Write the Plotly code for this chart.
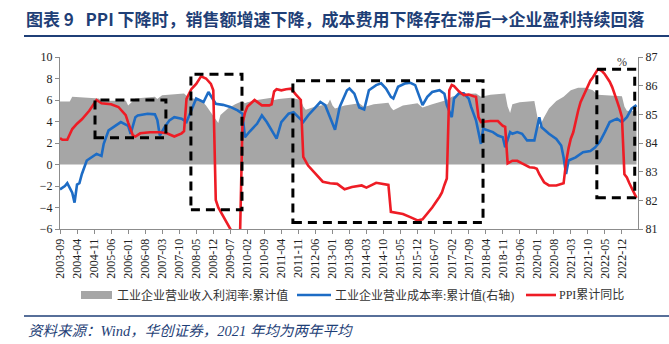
import plotly.graph_objects as go

# 工业企业营业收入利润率:累计值 (%, left axis)
margin_dates = [
    "2003-09", "2003-12", "2004-01", "2004-02", "2004-07", "2004-12", "2005-01", "2005-02",
    "2005-07", "2005-12", "2006-01", "2006-02", "2006-04", "2006-12", "2007-01", "2007-03",
    "2007-08", "2007-12", "2008-01", "2008-02", "2008-05", "2008-07", "2008-09", "2008-11",
    "2009-01", "2009-02", "2009-03", "2009-06", "2009-09", "2009-12", "2010-01", "2010-02",
    "2010-06", "2010-12", "2011-01", "2011-03", "2011-08", "2011-11", "2011-12", "2012-01",
    "2012-02", "2012-06", "2012-11", "2012-12", "2013-01", "2013-02", "2013-06", "2013-12",
    "2014-01", "2014-02", "2014-06", "2014-12", "2015-01", "2015-02", "2015-06", "2015-12",
    "2016-01", "2016-02", "2016-06", "2016-12", "2017-02", "2017-06", "2017-12", "2018-02",
    "2018-06", "2018-12", "2019-01", "2019-02", "2019-03", "2019-06", "2019-12", "2020-01",
    "2020-02", "2020-04", "2020-06", "2020-09", "2020-12", "2021-03", "2021-06", "2021-09",
    "2021-12", "2022-02", "2022-06", "2022-12", "2023-01", "2023-02", "2023-06",
]
margin_vals = [
    5.85, 5.9, 5.85, 6.3, 6.25, 6.2, 6.15, 5.9,
    5.9, 5.95, 5.5, 5.75, 6.15, 6.3, 6.1, 6.45,
    6.5, 6.6, 6.4, 6.2, 6.1, 6.0, 5.5, 4.8,
    4.1, 3.85, 4.6, 5.2, 5.6, 5.9, 5.7, 5.8,
    6.0, 6.2, 6.0, 6.1, 6.2, 6.1, 6.0, 5.4,
    5.1, 5.4, 5.6, 6.05, 5.5, 5.2, 5.5, 5.7,
    5.5, 5.35, 5.6, 5.75, 5.3, 5.05, 5.5, 5.7,
    5.5, 5.3, 5.6, 6.0, 6.3, 6.55, 6.6, 6.3,
    6.5, 6.6, 5.4, 4.8, 5.6, 5.8, 5.9, 4.6,
    3.5, 4.4, 5.2, 5.9, 6.3, 6.9, 7.15, 7.15,
    6.9, 6.5, 6.45, 6.35, 5.4, 5.0, 4.95,
]

# 工业企业营业成本率:累计值 (%, right axis)
cost_dates = [
    "2003-09", "2003-11", "2003-12", "2004-02", "2004-03", "2004-04", "2004-05", "2004-06",
    "2004-08", "2004-10", "2004-12", "2005-02", "2005-03", "2005-05", "2005-07", "2005-09",
    "2005-10", "2006-01", "2006-02", "2006-04", "2006-05", "2006-09", "2006-12", "2007-01",
    "2007-02", "2007-04", "2007-06", "2007-08", "2007-11", "2008-01", "2008-03", "2008-05",
    "2008-08", "2008-10", "2009-01", "2009-04", "2009-07", "2009-10", "2009-12", "2010-01",
    "2010-03", "2010-06", "2010-08", "2010-10", "2011-02", "2011-04", "2011-07", "2011-09",
    "2011-11", "2012-01", "2012-03", "2012-06", "2012-08", "2012-10", "2012-12", "2013-02",
    "2013-04", "2013-07", "2013-08", "2013-10", "2013-12", "2014-02", "2014-04", "2014-07",
    "2014-09", "2014-11", "2015-01", "2015-02", "2015-04", "2015-07", "2015-09", "2015-11",
    "2016-02", "2016-04", "2016-06", "2016-09", "2016-11", "2016-12", "2017-02", "2017-03",
    "2017-05", "2017-07", "2017-09", "2017-10", "2017-12", "2018-02", "2018-03", "2018-05",
    "2018-07", "2018-09", "2018-11", "2018-12", "2019-02", "2019-03", "2019-05", "2019-07",
    "2019-09", "2019-12", "2020-02", "2020-03", "2020-06", "2020-09", "2020-11", "2020-12",
    "2021-01", "2021-02", "2021-05", "2021-08", "2021-11", "2022-01", "2022-03", "2022-05",
    "2022-07", "2022-10", "2022-12", "2023-02", "2023-04", "2023-06",
]
cost_vals = [
    82.38, 82.5, 82.6, 82.27, 81.92, 82.55, 82.6, 82.92,
    83.39, 83.5, 83.62, 83.55, 83.97, 84.44, 84.55, 84.67,
    84.73, 84.6, 84.32, 84.9, 84.96, 85.02, 85.0, 84.8,
    84.26, 84.55, 84.79, 84.9, 84.85, 84.73, 85.14, 85.55,
    85.43, 85.78, 85.37, 85.33, 85.26, 85.14, 85.02, 84.2,
    84.4, 84.67, 84.96, 84.73, 84.15, 84.73, 85.02, 85.07,
    84.9, 84.73, 84.96, 85.26, 85.43, 85.32, 84.9, 84.46,
    85.26, 85.84, 85.9, 85.72, 85.24, 85.17, 85.84, 86.02,
    86.08, 85.9, 85.61, 85.55, 85.96, 86.08, 86.1, 86.02,
    85.32, 85.61, 85.78, 85.84, 85.72, 85.32, 84.9, 85.55,
    85.73, 85.73, 85.55, 85.26, 84.79, 83.97, 84.5, 84.44,
    84.38, 84.26, 84.2, 83.85, 84.38, 84.32, 84.38, 84.32,
    84.09, 84.09, 84.9, 84.55, 84.32, 84.14, 83.91, 83.5,
    82.92, 83.39, 83.5, 83.68, 83.72, 83.85, 84.05, 84.38,
    84.73, 84.85, 84.73, 84.9, 85.2, 85.32,
]

# PPI累计同比 (%, left axis)
ppi_dates = [
    "2003-09", "2003-10", "2003-12", "2004-02", "2004-04", "2004-06", "2004-09", "2004-12",
    "2005-02", "2005-06", "2005-09", "2005-11", "2005-12", "2006-01", "2006-02", "2006-03",
    "2006-04", "2006-06", "2006-10", "2007-02", "2007-05", "2007-08", "2007-11", "2007-12",
    "2008-01", "2008-03", "2008-05", "2008-07", "2008-09", "2008-11", "2008-12", "2009-01",
    "2009-02", "2009-05", "2009-07", "2009-08", "2009-09", "2009-10", "2009-11", "2009-12",
    "2010-01", "2010-02", "2010-04", "2010-05", "2010-08", "2010-11", "2010-12", "2011-01",
    "2011-02", "2011-04", "2011-06", "2011-08", "2011-10", "2011-11", "2011-12", "2012-01",
    "2012-03", "2012-06", "2012-09", "2012-12", "2013-03", "2013-06", "2013-09", "2014-01",
    "2014-03", "2014-07", "2014-10", "2014-12", "2015-01", "2015-06", "2015-09", "2015-12",
    "2016-02", "2016-06", "2016-09", "2016-10", "2016-11", "2016-12", "2017-01", "2017-02",
    "2017-03", "2017-05", "2017-07", "2017-09", "2017-11", "2017-12", "2018-01", "2018-02",
    "2018-04", "2018-06", "2018-09", "2018-11", "2018-12", "2019-01", "2019-03", "2019-05",
    "2019-07", "2019-10", "2019-12", "2020-01", "2020-02", "2020-04", "2020-06", "2020-09",
    "2020-12", "2021-01", "2021-02", "2021-03", "2021-04", "2021-05", "2021-06", "2021-07",
    "2021-08", "2021-09", "2021-10", "2021-11", "2021-12", "2022-01", "2022-02", "2022-03",
    "2022-04", "2022-05", "2022-06", "2022-07", "2022-08", "2022-09", "2022-10", "2022-11",
    "2022-12", "2023-01", "2023-02", "2023-03", "2023-04", "2023-05", "2023-06",
]
ppi_vals = [
    2.45, 2.3, 2.3, 3.3, 3.8, 4.2, 5.0, 6.0,
    5.7, 5.6, 5.35, 4.9, 4.6, 3.9, 3.2, 2.7,
    2.6, 2.9, 3.0, 3.0, 2.9, 2.6, 2.9, 3.1,
    6.1, 7.0, 7.5, 8.2, 8.0, 7.5, 6.9, -3.3,
    -4.0, -5.2, -5.9, -6.5, -6.8, -6.8, -6.4, 3.8,
    4.8, 5.4, 5.8, 6.0, 5.5, 5.5, 5.6, 6.8,
    7.0, 6.9, 7.0, 7.05, 6.5, 6.2, 6.0, 0.7,
    -0.1, -0.85, -1.6, -1.75, -1.8, -2.3, -2.1, -1.95,
    -2.15, -1.7, -1.8, -1.9, -4.4, -4.6, -4.9, -5.2,
    -5.1, -4.0, -3.0, -2.6, -1.9, -1.3, 6.9, 7.4,
    7.3, 6.8, 6.45, 6.5, 6.35, 6.3, 4.4, 3.95,
    4.0, 4.05, 4.05, 3.6, 3.5, 0.1, 0.35, 0.35,
    0.1, -0.25, -0.3, -0.4, -0.9, -1.65, -1.95, -1.95,
    -1.75, 0.2, 1.5, 2.4, 3.0, 4.1, 5.0, 5.8,
    6.3, 6.8, 7.3, 7.8, 8.1, 8.5, 8.85, 8.8,
    8.65, 8.4, 8.1, 7.7, 7.2, 6.6, 5.9, 5.2,
    4.4, -0.9, -1.2, -1.7, -2.2, -2.7, -3.1,
]

# x-axis labels, one every seven months
tick_labels = [
    "2003-09", "2004-04", "2004-11", "2005-06", "2006-01", "2006-08", "2007-03",
    "2007-10", "2008-05", "2008-12", "2009-07", "2010-02", "2010-09", "2011-04",
    "2011-11", "2012-06", "2013-01", "2013-08", "2014-03", "2014-10", "2015-05",
    "2015-12", "2016-07", "2017-02", "2017-09", "2018-04", "2018-11", "2019-06",
    "2020-01", "2020-08", "2021-03", "2021-10", "2022-05", "2022-12",
]

series_names = [
    "工业企业营业收入利润率:累计值",
    "工业企业营业成本率:累计值(右轴)",
    "PPI累计同比",
]

# highlighted periods: (start, end, top, bottom) on the left-axis scale
highlight_boxes = [
    ("2004-11-12", "2007-04-18", 6.0, 2.5),
    ("2008-02-25", "2009-11-25", 8.4, -4.2),
    ("2011-08-24", "2018-02-27", 7.8, -5.4),
    ("2022-01-21", "2023-05-10", 8.85, -3.1),
]

GRAY = "#A6A6A6"
BLUE = "#1D6CC5"
RED = "#EE1C25"
NAVY = "#1F3F77"
AXIS = "#8C8C8C"
SERIF = "Liberation Serif, Noto Sans CJK SC"
CJK = "Noto Sans CJK SC"

W, H = 669, 344
L, R, T, B = 60, 638, 57, 229  # plot area in pixels


def px(x):
    return (x - L) / (R - L)


def py(y):
    return (B - y) / (B - T)


fig = go.Figure()
fig.add_trace(go.Scatter(
    x=margin_dates, y=margin_vals, name=series_names[0], mode="lines",
    fill="tozeroy", fillcolor=GRAY, line=dict(width=0, color=GRAY),
    showlegend=False, yaxis="y",
))
fig.add_trace(go.Scatter(
    x=cost_dates, y=cost_vals, name=series_names[1], mode="lines",
    line=dict(color=BLUE, width=2.6), showlegend=False, yaxis="y2",
))
fig.add_trace(go.Scatter(
    x=ppi_dates, y=ppi_vals, name=series_names[2], mode="lines",
    line=dict(color=RED, width=2.6), showlegend=False, yaxis="y3",
))

shapes = []
for x0, x1, top, bot in highlight_boxes:
    shapes.append(dict(
        type="rect", xref="x", yref="y", x0=x0, x1=x1, y0=bot, y1=top,
        line=dict(color="black", width=3, dash="9px,6px"),
        fillcolor="rgba(0,0,0,0)", layer="above",
    ))

# title rule and footer rule
shapes.append(dict(type="line", xref="paper", yref="paper",
                   x0=px(24), x1=px(669), y0=py(36), y1=py(36),
                   line=dict(color=NAVY, width=2)))
shapes.append(dict(type="line", xref="paper", yref="paper",
                   x0=px(24), x1=px(669), y0=py(316), y1=py(316),
                   line=dict(color=NAVY, width=1.5)))

# legend swatches
LEG_Y = 295
shapes.append(dict(type="rect", xref="paper", yref="paper",
                   x0=px(81), x1=px(112), y0=py(299), y1=py(291),
                   fillcolor=GRAY, line=dict(width=0)))
shapes.append(dict(type="line", xref="paper", yref="paper",
                   x0=px(297), x1=px(331), y0=py(LEG_Y), y1=py(LEG_Y),
                   line=dict(color=BLUE, width=2.6)))
shapes.append(dict(type="line", xref="paper", yref="paper",
                   x0=px(526), x1=px(556), y0=py(LEG_Y), y1=py(LEG_Y),
                   line=dict(color=RED, width=2.6)))

annotations = [
    dict(text="图表 9 &#160;&#160;PPI 下降时，销售额增速下降，成本费用下降存在滞后→企业盈利持续回落",
         xref="paper", yref="paper", x=px(24), y=py(18), xanchor="left", yanchor="middle",
         showarrow=False, font=dict(family=CJK, size=17, color=NAVY, weight="bold")),
    dict(text="%", xref="paper", yref="paper", x=px(622), y=py(62),
         xanchor="center", yanchor="middle", showarrow=False,
         font=dict(family=SERIF, size=12, color="#333333")),
    dict(text=series_names[0], xref="paper", yref="paper", x=px(115), y=py(LEG_Y),
         xanchor="left", yanchor="middle", showarrow=False,
         font=dict(family=SERIF, size=12, color="#333333")),
    dict(text=series_names[1], xref="paper", yref="paper", x=px(333), y=py(LEG_Y),
         xanchor="left", yanchor="middle", showarrow=False,
         font=dict(family=SERIF, size=12, color="#333333")),
    dict(text=series_names[2], xref="paper", yref="paper", x=px(557), y=py(LEG_Y),
         xanchor="left", yanchor="middle", showarrow=False,
         font=dict(family=SERIF, size=12, color="#333333")),
    dict(text="<i>资料来源：Wind，华创证券，2021 年均为两年平均</i>",
         xref="paper", yref="paper", x=px(26), y=py(331), xanchor="left", yanchor="middle",
         showarrow=False, font=dict(family=SERIF, size=14.5, color=NAVY)),
]

fig.update_layout(
    width=W, height=H,
    margin=dict(l=L, r=W - R, t=T, b=H - B, pad=0),
    paper_bgcolor="white", plot_bgcolor="white",
    showlegend=False,
    shapes=shapes, annotations=annotations,
    xaxis=dict(
        type="date", range=["2003-09-01", "2023-06-20"],
        tickmode="array", tickvals=tick_labels, ticktext=tick_labels,
        tickangle=-90, tickfont=dict(family=SERIF, size=12, color="#222222"),
        showgrid=False, zeroline=False,
        showline=True, linecolor=AXIS, linewidth=1,
        ticks="outside", ticklen=4, tickcolor=AXIS,
    ),
    yaxis=dict(
        range=[-6, 10], dtick=2, tick0=0,
        tickfont=dict(family=SERIF, size=12, color="#222222"),
        showgrid=False, zeroline=False,
        showline=True, linecolor=AXIS, linewidth=1,
        ticks="outside", ticklen=4, tickcolor=AXIS,
    ),
    yaxis2=dict(
        range=[81, 87], dtick=1, overlaying="y", side="right",
        tickfont=dict(family=SERIF, size=12, color="#222222"),
        showgrid=False, zeroline=False,
        showline=True, linecolor=AXIS, linewidth=1,
        ticks="outside", ticklen=4, tickcolor=AXIS,
    ),
    yaxis3=dict(
        range=[-6, 10], overlaying="y", visible=False,
    ),
)

fig.write_html("out.html")
